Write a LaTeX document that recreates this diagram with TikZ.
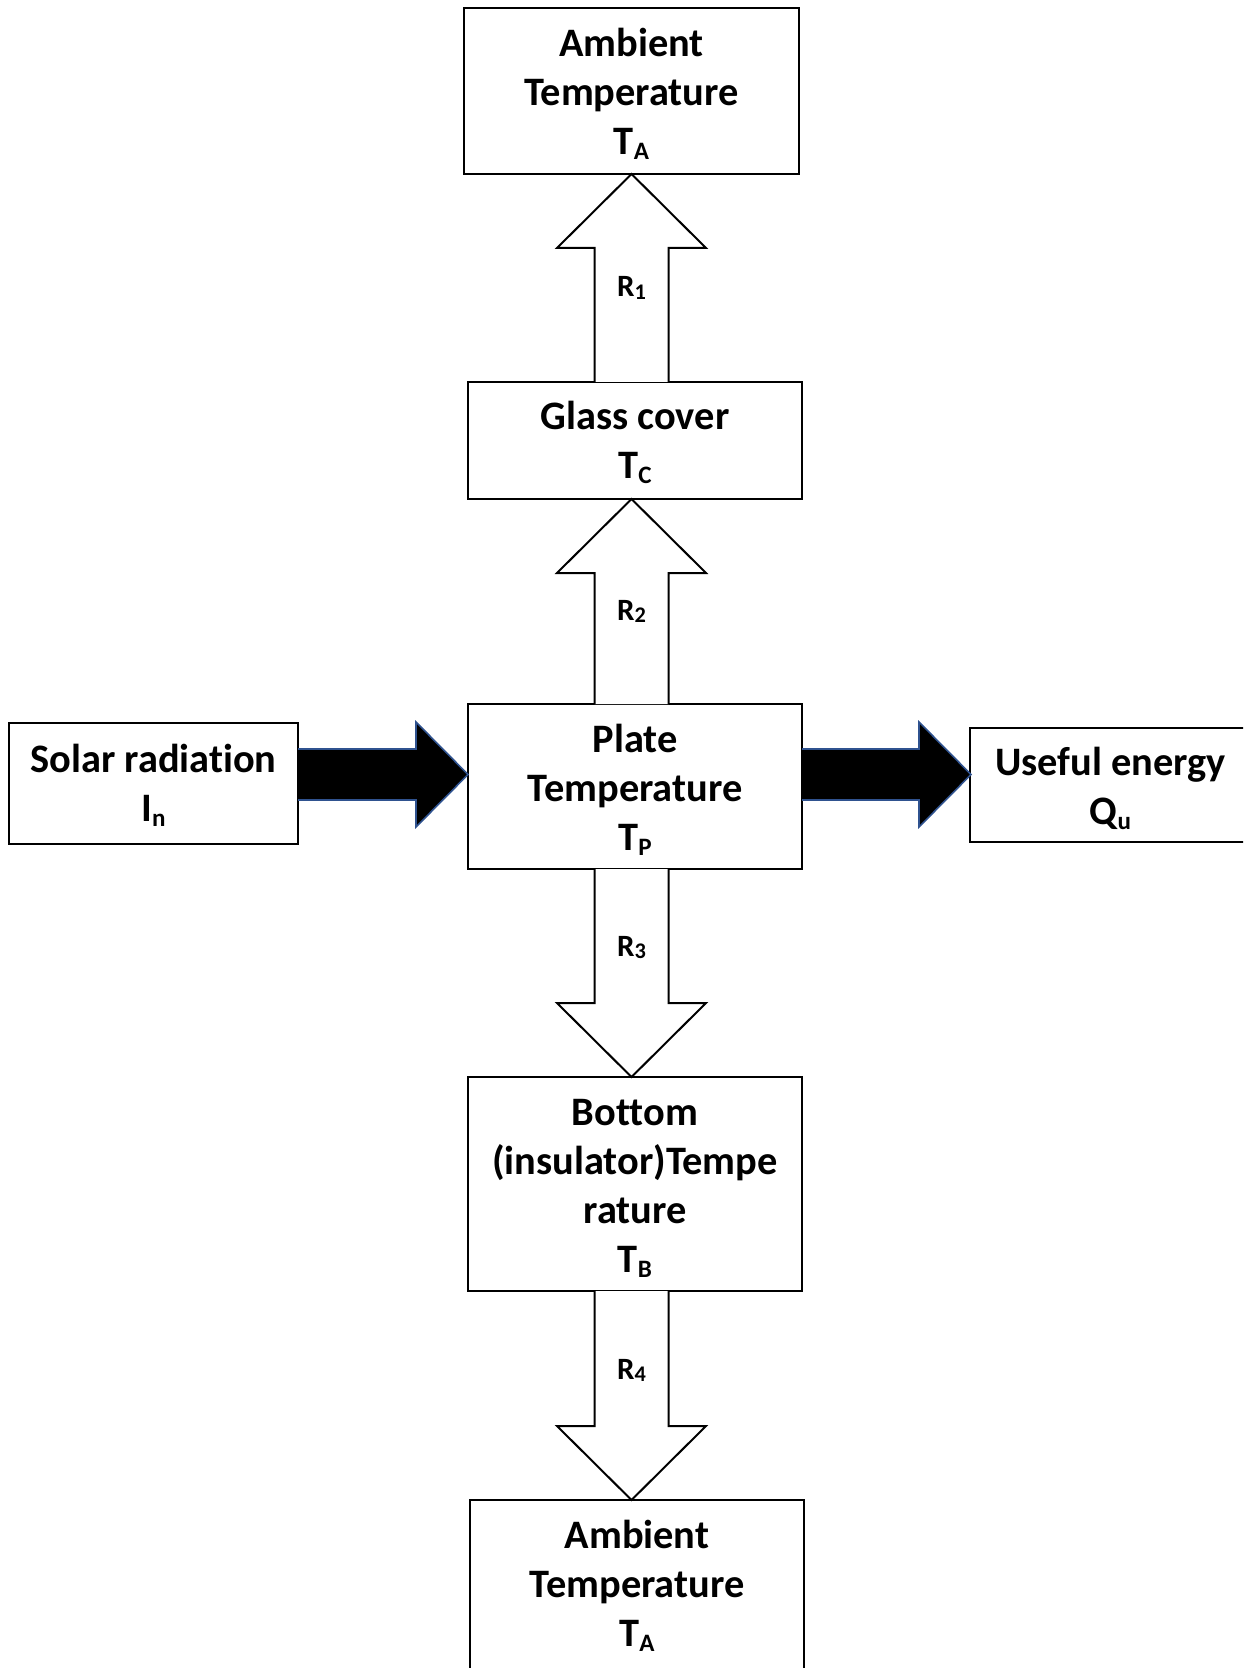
\documentclass[tikz,border=0pt]{standalone}
\usepackage{fontspec}
\setmainfont{Carlito}[Ligatures=NoCommon]
\usetikzlibrary{calc}
\definecolor{navyline}{RGB}{47,82,143}
\newcommand\lowsub[1]{\raisebox{-0.12em}{\scalebox{0.62}{#1}}}
\newcommand\rsub[1]{\raisebox{-0.08em}{\scalebox{0.72}{#1}}}
\begin{document}
\begin{tikzpicture}[x=0.5pt,y=-0.5pt,
  box/.style={draw,line width=1pt,inner sep=0pt,outer sep=0pt},
  txt/.style={anchor=north,inner sep=0pt,align=center,font=\fontsize{20.2pt}{24.5pt}\selectfont\bfseries},
  rlab/.style={anchor=base,inner sep=0pt,font=\fontsize{15.5pt}{17pt}\selectfont\bfseries},
  hollow/.style={draw,fill=white,line width=1pt,line join=miter},
  blockarrow/.style={draw=navyline,fill=black,line width=0.8pt,line join=miter}]
\useasboundingbox (0,0) rectangle (1243,1668);
\clip (0,0) rectangle (1243,1668);

% boxes
\node[box,minimum width=167.5pt,minimum height=83pt] (ta1) at (631.5,91) {};
\node[box,minimum width=167pt,minimum height=58.5pt] (glass) at (635,440.5) {};
\node[box,minimum width=167pt,minimum height=82.5pt] (plate) at (635,786.5) {};
\node[box,minimum width=167pt,minimum height=107pt] (bottom) at (635,1184) {};
\node[box,minimum width=167pt,minimum height=100pt] (ta2) at (637,1600) {};
\node[box,minimum width=144.5pt,minimum height=60.5pt] (solar) at (153.5,783.5) {};
\node[box,minimum width=145pt,minimum height=57pt] (useful) at (1114.5,785) {};

% texts
\node[txt] (ta1t) at ($(ta1.north)+(0,14)$) {\strut Ambient\\Temperature\\T\lowsub{A}};
\node[txt] (glasst) at ($(glass.north)+(0,13)$) {\strut Glass cover\\T\lowsub{C}};
\node[txt] (platet) at ($(plate.north)+(0,14)$) {\strut Plate\\Temperature\\T\lowsub{P}};
\node[txt] (bottomt) at ($(bottom.north)+(0,14)$) {\strut Bottom\\(insulator)Tempe\\rature\\T\lowsub{B}};
\node[txt] (ta2t) at ($(ta2.north)+(0,14)$) {\strut Ambient\\Temperature\\T\lowsub{A}};
\node[txt] (solart) at ($(solar.north)+(0,15)$) {\strut Solar radiation\\I\lowsub{n}};
\node[txt] (usefult) at ($(useful.north)+(-4,13)$) {\strut Useful energy\\Q\lowsub{u}};

% hollow arrows (axis x of ta1)
\coordinate (r1tip) at (ta1.south);
\coordinate (r1base) at (ta1.south |- glass.north);
\coordinate (r2tip) at (ta1.south |- glass.south);
\coordinate (r2base) at (ta1.south |- plate.north);
\coordinate (r3base) at (ta1.south |- plate.south);
\coordinate (r3tip) at (ta1.south |- bottom.north);
\coordinate (r4base) at (ta1.south |- bottom.south);
\coordinate (r4tip) at (ta1.south |- ta2.north);

\draw[hollow] ($(r1base)+(-37,0)$) -- ($(r1tip)+(-37,74)$) -- ($(r1tip)+(-74.5,74)$) -- (r1tip)
  -- ($(r1tip)+(74.5,74)$) -- ($(r1tip)+(37,74)$) -- ($(r1base)+(37,0)$);
\draw[hollow] ($(r2base)+(-37,0)$) -- ($(r2tip)+(-37,74)$) -- ($(r2tip)+(-74.5,74)$) -- (r2tip)
  -- ($(r2tip)+(74.5,74)$) -- ($(r2tip)+(37,74)$) -- ($(r2base)+(37,0)$);
\draw[hollow] ($(r3base)+(-37,0)$) -- ($(r3tip)+(-37,-74)$) -- ($(r3tip)+(-74.5,-74)$) -- (r3tip)
  -- ($(r3tip)+(74.5,-74)$) -- ($(r3tip)+(37,-74)$) -- ($(r3base)+(37,0)$);
\draw[hollow] ($(r4base)+(-37,0)$) -- ($(r4tip)+(-37,-74)$) -- ($(r4tip)+(-74.5,-74)$) -- (r4tip)
  -- ($(r4tip)+(74.5,-74)$) -- ($(r4tip)+(37,-74)$) -- ($(r4base)+(37,0)$);

\node[rlab] (r1) at ($(r1tip)+(0,123)$) {R\rsub{1}};
\node[rlab] (r2) at ($(r2tip)+(0,121)$) {R\rsub{2}};
\node[rlab] (r3) at ($(r3tip)+(0,-121)$) {R\rsub{3}};
\node[rlab] (r4) at ($(r4tip)+(0,-121)$) {R\rsub{4}};

% solid block arrows
\coordinate (t0) at ($(plate.west)+(0,-12)$);
\coordinate (s0) at (solar.east |- t0);
\coordinate (t1) at ($(useful.west)+(1.5,-10.5)$);
\coordinate (s1) at (plate.east |- t1);
\draw[blockarrow] ($(s0)+(0,-25.5)$) -- ($(t0)+(-52,-25.5)$) -- ($(t0)+(-52,-52.5)$) -- (t0)
  -- ($(t0)+(-52,52.5)$) -- ($(t0)+(-52,25.5)$) -- ($(s0)+(0,25.5)$);
\draw[blockarrow] ($(s1)+(0,-25.5)$) -- ($(t1)+(-52,-25.5)$) -- ($(t1)+(-52,-52.5)$) -- (t1)
  -- ($(t1)+(-52,52.5)$) -- ($(t1)+(-52,25.5)$) -- ($(s1)+(0,25.5)$);
\end{tikzpicture}
\end{document}
